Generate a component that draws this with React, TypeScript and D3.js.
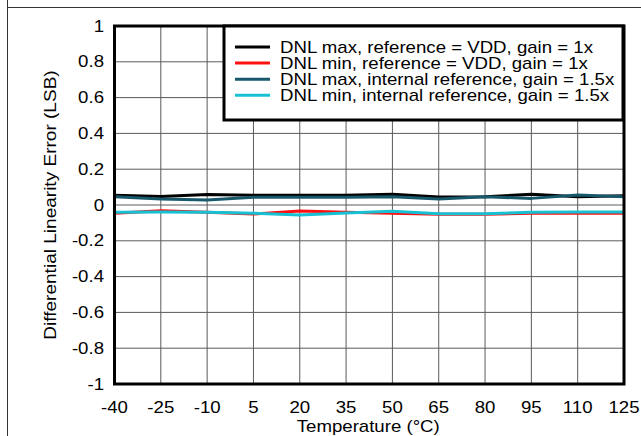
import React from "react";
import * as d3 from "d3";

const temperatures = [-40, -25, -10, 5, 20, 35, 50, 65, 80, 95, 110, 125];
const dnlMaxVdd = [0.054, 0.048, 0.058, 0.054, 0.054, 0.054, 0.06, 0.045, 0.046, 0.06, 0.046, 0.052];
const dnlMinVdd = [-0.046, -0.032, -0.041, -0.05, -0.034, -0.041, -0.046, -0.052, -0.052, -0.046, -0.046, -0.046];
const dnlMaxInt = [0.046, 0.034, 0.028, 0.043, 0.043, 0.043, 0.046, 0.034, 0.046, 0.037, 0.056, 0.046];
const dnlMinInt = [-0.041, -0.039, -0.041, -0.046, -0.056, -0.045, -0.035, -0.049, -0.049, -0.041, -0.039, -0.039];
const yTicks = [1, 0.8, 0.6, 0.4, 0.2, 0, -0.2, -0.4, -0.6, -0.8, -1];
const xTicks = temperatures;

const seriesNames = [
  "DNL max, reference = VDD, gain = 1x",
  "DNL min, reference = VDD, gain = 1x",
  "DNL max, internal reference, gain = 1.5x",
  "DNL min, internal reference, gain = 1.5x",
];
const seriesValues = [dnlMaxVdd, dnlMinVdd, dnlMaxInt, dnlMinInt];
const seriesColors = ["#000000", "#ff1010", "#17596b", "#17c0d2"];

const W = 641;
const H = 436;
const left = 114.5;
const right = 624;
const top = 26;
const bottom = 384;
const FONT = "'Liberation Sans', Arial, Helvetica, sans-serif";
const SX = 1.165;

export default function App() {
  const x = d3.scaleLinear().domain([-40, 125]).range([left, right]);
  const y = d3.scaleLinear().domain([-1, 1]).range([bottom, top]);
  const line = d3
    .line<number>()
    .x((_, i) => x(temperatures[i]))
    .y((d) => y(d));

  const fmt = (v: number) => String(Math.round(v * 10) / 10);

  return (
    <svg
      width={W}
      height={H}
      style={{ position: "absolute", left: 0, top: 0, background: "#fff" }}
      fontFamily={FONT}
    >
      <rect x={0} y={0} width={W} height={H} fill="#fff" />
      {/* frame */}
      <line x1={7.5} y1={0} x2={7.5} y2={H} stroke="#333" strokeWidth={1} />
      <line x1={7.5} y1={7.5} x2={W} y2={7.5} stroke="#333" strokeWidth={1} />

      {/* grid */}
      {xTicks.map((t) => (
        <line key={"gx" + t} x1={x(t)} x2={x(t)} y1={top} y2={bottom} stroke="#5a5a5a" strokeWidth={1} />
      ))}
      {yTicks.map((t) => (
        <line key={"gy" + t} x1={left} x2={right} y1={y(t)} y2={y(t)} stroke="#5a5a5a" strokeWidth={1} />
      ))}

      {/* data */}
      {seriesValues.map((vals, i) => (
        <path key={"s" + i} d={line(vals) || ""} fill="none" stroke={seriesColors[i]} strokeWidth={3} strokeLinejoin="round" />
      ))}

      {/* plot border */}
      <rect x={left} y={top} width={right - left} height={bottom - top} fill="none" stroke="#000" strokeWidth={3} />

      {/* y ticks */}
      {yTicks.map((t) => (
        <text
          key={"ty" + t}
          transform={`translate(104, ${y(t)}) scale(${SX}, 1)`}
          dy="0.35em"
          textAnchor="end"
          fontSize={16}
          fill="#000"
        >
          {fmt(t)}
        </text>
      ))}
      {/* x ticks */}
      {xTicks.map((t) => (
        <text
          key={"tx" + t}
          transform={`translate(${x(t)}, 413) scale(${SX}, 1)`}
          textAnchor="middle"
          fontSize={16}
          fill="#000"
        >
          {t}
        </text>
      ))}
      <text
        transform={`translate(${(left + right) / 2 - 1}, 432) scale(${SX}, 1)`}
        textAnchor="middle"
        fontSize={16}
        fill="#000"
      >
        Temperature (°C)
      </text>
      <text
        transform={`translate(56, ${(top + bottom) / 2}) rotate(-90) scale(1.19, 1)`}
        textAnchor="middle"
        fontSize={16}
        fill="#000"
      >
        Differential Linearity Error (LSB)
      </text>

      {/* legend */}
      <rect x={224} y={26} width={399} height={94} fill="#fff" stroke="#000" strokeWidth={3} />
      {seriesNames.map((n, i) => (
        <g key={"l" + i} transform={`translate(0, ${47 + i * 16.1})`}>
          <line x1={235} x2={270} y1={0} y2={0} stroke={seriesColors[i]} strokeWidth={3} />
          <text transform={`translate(280, 0) scale(${SX}, 1)`} dy="0.35em" fontSize={16} fill="#000">
            {n}
          </text>
        </g>
      ))}
    </svg>
  );
}
